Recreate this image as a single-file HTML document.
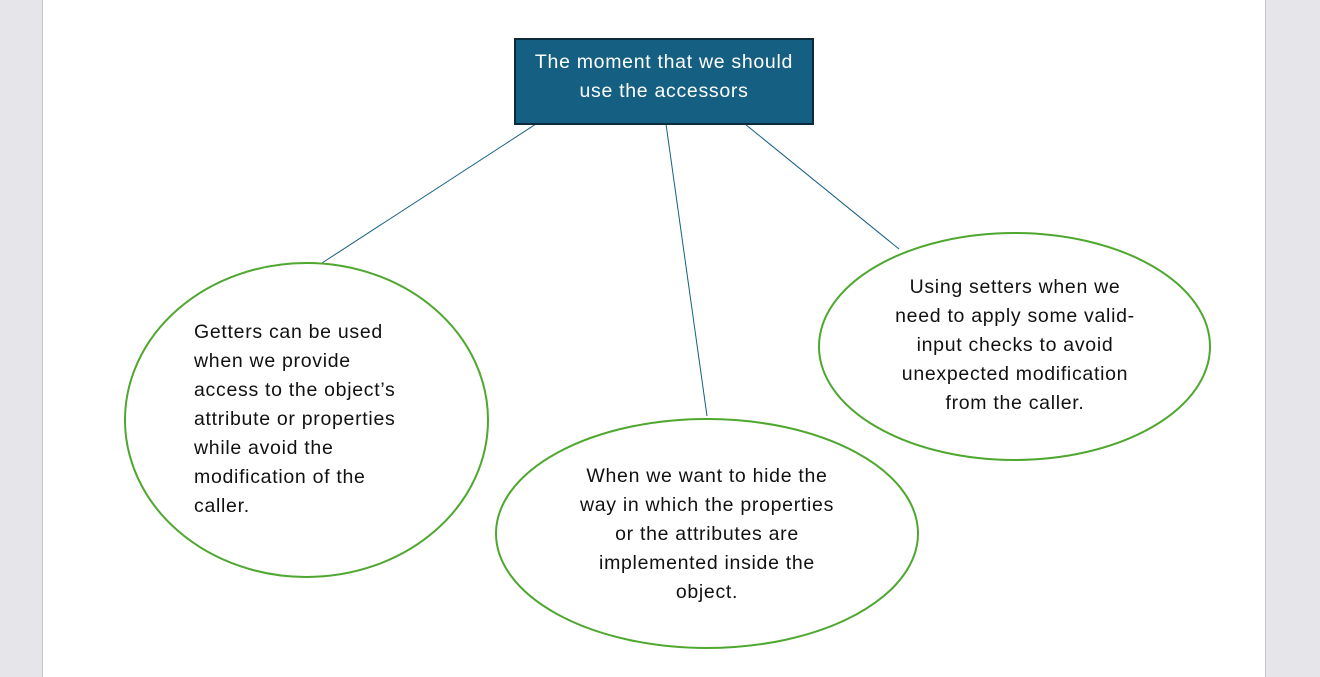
<!DOCTYPE html>
<html><head><meta charset="utf-8"><style>
html,body{margin:0;padding:0;width:1320px;height:677px;overflow:hidden;background:#e6e6ea;}
svg{position:absolute;left:0;top:0;}
.t{font-family:"Liberation Sans",sans-serif;font-size:19.5px;letter-spacing:0.7px;fill:#111;}
</style></head><body>
<svg width="1320" height="677" viewBox="0 0 1320 677">
<rect x="0" y="0" width="1320" height="677" fill="#e6e6ea"/>
<rect x="42" y="0" width="1223.5" height="677" fill="#ffffff"/>
<line x1="42.5" y1="0" x2="42.5" y2="677" stroke="#c4c4c8" stroke-width="1"/>
<line x1="1265.5" y1="0" x2="1265.5" y2="677" stroke="#c4c4c8" stroke-width="1"/>
<g stroke="#156082" stroke-width="1">
<line x1="536" y1="124" x2="322" y2="263"/>
<line x1="666" y1="124" x2="707" y2="416"/>
<line x1="745" y1="124" x2="899" y2="249"/>
</g>
<rect x="515" y="39" width="298" height="85" fill="#156082" stroke="#0c2a3a" stroke-width="2"/>
<text x="664" y="68" text-anchor="middle" class="t" style="fill:#fff">The moment that we should</text>
<text x="664" y="97" text-anchor="middle" class="t" style="fill:#fff">use the accessors</text>
<g fill="none" stroke="#4ea72e" stroke-width="2">
<ellipse cx="306.5" cy="420" rx="181.5" ry="157"/>
<ellipse cx="707" cy="533.5" rx="211" ry="114.5"/>
<ellipse cx="1014.5" cy="346.5" rx="195.5" ry="113.5"/>
</g>
<g class="t">
<text x="194" y="338">Getters can be used</text>
<text x="194" y="367">when we provide</text>
<text x="194" y="396">access to the object’s</text>
<text x="194" y="425">attribute or properties</text>
<text x="194" y="454">while avoid the</text>
<text x="194" y="483">modification of the</text>
<text x="194" y="512">caller.</text>
</g>
<g class="t" text-anchor="middle">
<text x="707" y="482">When we want to hide the</text>
<text x="707" y="511">way in which the properties</text>
<text x="707" y="540">or the attributes are</text>
<text x="707" y="569">implemented inside the</text>
<text x="707" y="598">object.</text>
<text x="1015" y="293">Using setters when we</text>
<text x="1015" y="322">need to apply some valid-</text>
<text x="1015" y="351">input checks to avoid</text>
<text x="1015" y="380">unexpected modification</text>
<text x="1015" y="409">from the caller.</text>
</g>
</svg>
</body></html>
